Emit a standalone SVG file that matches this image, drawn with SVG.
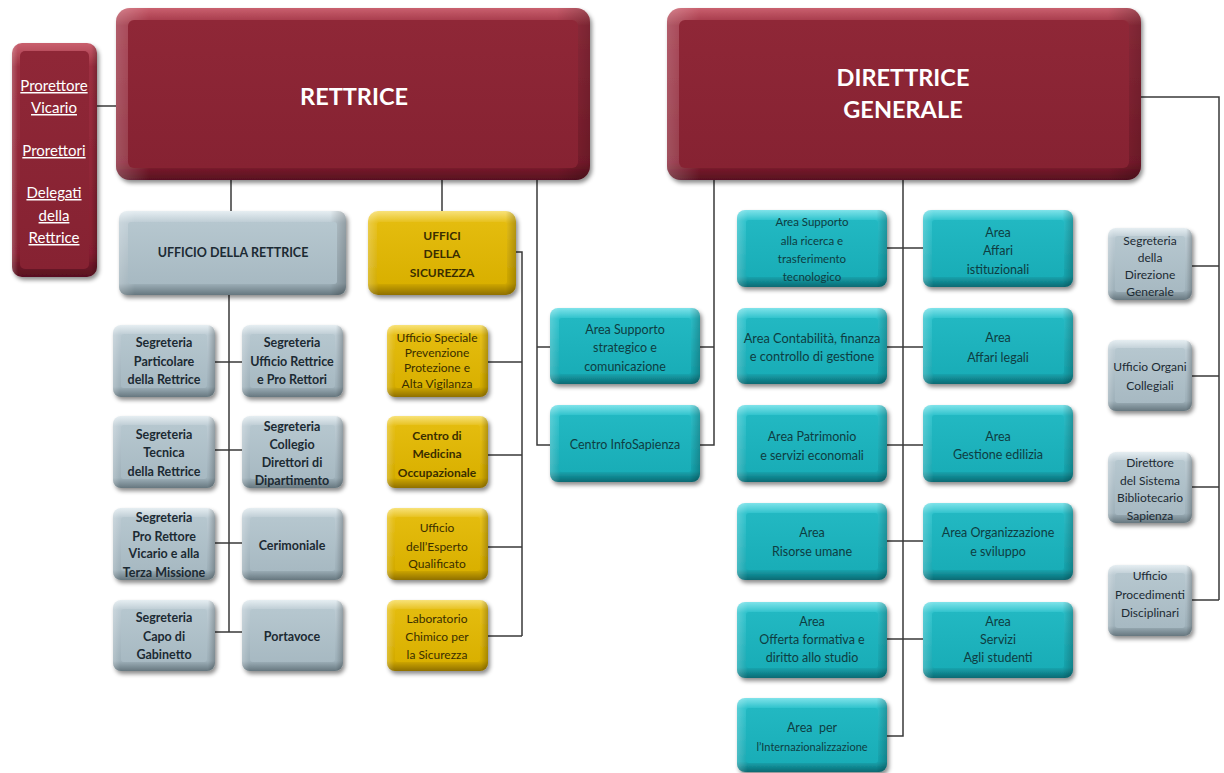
<svg xmlns="http://www.w3.org/2000/svg" width="1224" height="773" viewBox="0 0 1224 773">
<style>
.t{font-family:Lato,"Noto Sans","Liberation Sans",sans-serif;text-anchor:middle}
.s{font-size:12px}
.s2{font-size:12.5px}
.s3{font-size:12.5px}
.b{font-weight:700}
.g{fill:#1c2a33}
.y{fill:#3a2e00}
.c{fill:#0e3d42}
.big{font-size:23.5px;font-weight:700;fill:#ffffff}
.u{font-size:15px;fill:#ffffff;text-decoration:underline}
.ln{fill:none;stroke:#3a3a3a;stroke-width:1.5}
.sh{filter:url(#ds)}
.hl{fill:url(#side)}
</style>
<defs>
<filter id="ds" x="-10%" y="-10%" width="130%" height="140%">
<feDropShadow dx="2" dy="3" stdDeviation="2" flood-color="#000" flood-opacity="0.45"/>
</filter>
<linearGradient id="side" x1="0" y1="0" x2="1" y2="0">
<stop offset="0" stop-color="#fff" stop-opacity="0.22"/>
<stop offset="0.07" stop-color="#fff" stop-opacity="0"/>
<stop offset="0.93" stop-color="#000" stop-opacity="0"/>
<stop offset="1" stop-color="#000" stop-opacity="0.22"/>
</linearGradient>
<linearGradient id="mo" x1="0" y1="0" x2="0" y2="1">
<stop offset="0" stop-color="#c9606e"/>
<stop offset="0.1" stop-color="#9c2f40"/>
<stop offset="0.9" stop-color="#861f30"/>
<stop offset="1" stop-color="#571020"/>
</linearGradient>
<linearGradient id="mi" x1="0" y1="0" x2="0" y2="1">
<stop offset="0" stop-color="#8f2737"/>
<stop offset="1" stop-color="#862232"/>
</linearGradient>
<linearGradient id="go" x1="0" y1="0" x2="0" y2="1">
<stop offset="0" stop-color="#e6eef2"/>
<stop offset="0.14" stop-color="#bccbd3"/>
<stop offset="0.86" stop-color="#9fb1ba"/>
<stop offset="1" stop-color="#66777f"/>
</linearGradient>
<linearGradient id="gi" x1="0" y1="0" x2="0" y2="1">
<stop offset="0" stop-color="#b6c7cf"/>
<stop offset="1" stop-color="#a7b9c2"/>
</linearGradient>
<linearGradient id="yo" x1="0" y1="0" x2="0" y2="1">
<stop offset="0" stop-color="#f8e27a"/>
<stop offset="0.14" stop-color="#e6bf18"/>
<stop offset="0.86" stop-color="#d2aa00"/>
<stop offset="1" stop-color="#8f7000"/>
</linearGradient>
<linearGradient id="yi" x1="0" y1="0" x2="0" y2="1">
<stop offset="0" stop-color="#e4bc0e"/>
<stop offset="1" stop-color="#d9b000"/>
</linearGradient>
<linearGradient id="co" x1="0" y1="0" x2="0" y2="1">
<stop offset="0" stop-color="#7fe3ea"/>
<stop offset="0.14" stop-color="#2cc1cb"/>
<stop offset="0.86" stop-color="#17a7b1"/>
<stop offset="1" stop-color="#0b6a73"/>
</linearGradient>
<linearGradient id="ci" x1="0" y1="0" x2="0" y2="1">
<stop offset="0" stop-color="#22b8c2"/>
<stop offset="1" stop-color="#19adb7"/>
</linearGradient>
</defs>
<rect width="1224" height="773" fill="#ffffff"/>

<g id="connectors">
<path class="ln" d="M97,106H116"/>
<path class="ln" d="M231,180V211"/>
<path class="ln" d="M229,295V632M215,362H242M215,450H242M215,543H242M215,632H242"/>
<path class="ln" d="M442,180V211"/>
<path class="ln" d="M516,252H522V636M488,362H522M488,455H522M488,547H522M488,636H522"/>
<path class="ln" d="M537,180V445H550M537,347H550"/>
<path class="ln" d="M714,180V445H700M700,347H714"/>
<path class="ln" d="M903,180V736H887M887,248H923M887,347H923M887,445H923M887,541H923M887,639H923"/>
<path class="ln" d="M1141,97H1219V600M1192,266H1219M1192,376H1219M1192,487H1219M1192,600H1219"/>
</g>

<g id="vicari">
<rect class="sh" x="12" y="43" width="85" height="234" rx="10" fill="url(#mo)"/>
<rect x="12" y="43" width="85" height="234" rx="10" class="hl"/>
<rect x="20" y="51" width="69" height="218" rx="5" fill="url(#mi)"/>
<text class="t u" x="54" y="91">Prorettore</text>
<text class="t u" x="54" y="113">Vicario</text>
<text class="t u" x="54" y="156">Prorettori</text>
<text class="t u" x="54" y="198">Delegati</text>
<text class="t u" x="54" y="221">della</text>
<text class="t u" x="54" y="243">Rettrice</text>
</g>

<g id="rettrice">
<rect class="sh" x="116" y="8" width="474" height="172" rx="14" fill="url(#mo)"/>
<rect x="116" y="8" width="474" height="172" rx="14" class="hl"/>
<rect x="128" y="20" width="450" height="148" rx="6" fill="url(#mi)"/>
<text class="t big" x="354" y="105">RETTRICE</text>
</g>

<g id="direttrice">
<rect class="sh" x="667" y="8" width="474" height="172" rx="14" fill="url(#mo)"/>
<rect x="667" y="8" width="474" height="172" rx="14" class="hl"/>
<rect x="679" y="20" width="450" height="148" rx="6" fill="url(#mi)"/>
<text class="t big" x="903" y="86">DIRETTRICE</text>
<text class="t big" x="903" y="118">GENERALE</text>
</g>

<g id="ufficio-rettrice">
<rect class="sh" x="119" y="211" width="227" height="84" rx="8" fill="url(#go)"/>
<rect x="119" y="211" width="227" height="84" rx="8" class="hl"/>
<rect x="128" y="222" width="209" height="62" rx="3" fill="url(#gi)"/>
<text class="t b g" x="233" y="257" font-size="12.5">UFFICIO DELLA RETTRICE</text>
</g>

<g id="seg-particolare">
<rect class="sh" x="113" y="325" width="102" height="72" rx="8" fill="url(#go)"/>
<rect x="113" y="325" width="102" height="72" rx="8" class="hl"/>
<rect x="121" y="334" width="86" height="54" rx="3" fill="url(#gi)"/>
<text class="t s2 b g" x="164" y="347">Segreteria</text>
<text class="t s2 b g" x="164" y="366">Particolare</text>
<text class="t s2 b g" x="164" y="384">della Rettrice</text>
</g>
<g id="seg-ufficio">
<rect class="sh" x="242" y="325" width="101" height="72" rx="8" fill="url(#go)"/>
<rect x="242" y="325" width="101" height="72" rx="8" class="hl"/>
<rect x="250" y="334" width="85" height="54" rx="3" fill="url(#gi)"/>
<text class="t s2 b g" x="292" y="347">Segreteria</text>
<text class="t s2 b g" x="292" y="366">Ufficio Rettrice</text>
<text class="t s2 b g" x="292" y="384">e Pro Rettori</text>
</g>
<g id="seg-tecnica">
<rect class="sh" x="113" y="416" width="102" height="72" rx="8" fill="url(#go)"/>
<rect x="113" y="416" width="102" height="72" rx="8" class="hl"/>
<rect x="121" y="425" width="86" height="54" rx="3" fill="url(#gi)"/>
<text class="t s2 b g" x="164" y="439">Segreteria</text>
<text class="t s2 b g" x="164" y="457">Tecnica</text>
<text class="t s2 b g" x="164" y="476">della Rettrice</text>
</g>
<g id="seg-collegio">
<rect class="sh" x="242" y="416" width="101" height="72" rx="8" fill="url(#go)"/>
<rect x="242" y="416" width="101" height="72" rx="8" class="hl"/>
<rect x="250" y="425" width="85" height="54" rx="3" fill="url(#gi)"/>
<text class="t s2 b g" x="292" y="431">Segreteria</text>
<text class="t s2 b g" x="292" y="449">Collegio</text>
<text class="t s2 b g" x="292" y="467">Direttori di</text>
<text class="t s2 b g" x="292" y="485">Dipartimento</text>
</g>
<g id="seg-prorettore">
<rect class="sh" x="113" y="508" width="102" height="72" rx="8" fill="url(#go)"/>
<rect x="113" y="508" width="102" height="72" rx="8" class="hl"/>
<rect x="121" y="517" width="86" height="54" rx="3" fill="url(#gi)"/>
<text class="t s2 b g" x="164" y="522">Segreteria</text>
<text class="t s2 b g" x="164" y="541">Pro Rettore</text>
<text class="t s2 b g" x="164" y="558">Vicario e alla</text>
<text class="t s2 b g" x="164" y="577">Terza Missione</text>
</g>
<g id="cerimoniale">
<rect class="sh" x="242" y="508" width="101" height="72" rx="8" fill="url(#go)"/>
<rect x="242" y="508" width="101" height="72" rx="8" class="hl"/>
<rect x="250" y="517" width="85" height="54" rx="3" fill="url(#gi)"/>
<text class="t s2 b g" x="292" y="550">Cerimoniale</text>
</g>
<g id="seg-capo">
<rect class="sh" x="113" y="600" width="102" height="71" rx="8" fill="url(#go)"/>
<rect x="113" y="600" width="102" height="71" rx="8" class="hl"/>
<rect x="121" y="609" width="86" height="53" rx="3" fill="url(#gi)"/>
<text class="t s2 b g" x="164" y="622">Segreteria</text>
<text class="t s2 b g" x="164" y="641">Capo di</text>
<text class="t s2 b g" x="164" y="659">Gabinetto</text>
</g>
<g id="portavoce">
<rect class="sh" x="242" y="600" width="101" height="71" rx="8" fill="url(#go)"/>
<rect x="242" y="600" width="101" height="71" rx="8" class="hl"/>
<rect x="250" y="609" width="85" height="53" rx="3" fill="url(#gi)"/>
<text class="t s2 b g" x="292" y="641">Portavoce</text>
</g>

<g id="sicurezza">
<rect class="sh" x="368" y="211" width="148" height="84" rx="10" fill="url(#yo)"/>
<rect x="368" y="211" width="148" height="84" rx="10" class="hl"/>
<rect x="377" y="222" width="130" height="62" rx="3" fill="url(#yi)"/>
<text class="t b y" x="442" y="240" font-size="12">UFFICI</text>
<text class="t b y" x="442" y="258" font-size="12">DELLA</text>
<text class="t b y" x="442" y="277" font-size="12">SICUREZZA</text>
</g>
<g id="uff-speciale">
<rect class="sh" x="387" y="325" width="101" height="72" rx="8" fill="url(#yo)"/>
<rect x="387" y="325" width="101" height="72" rx="8" class="hl"/>
<rect x="395" y="334" width="85" height="54" rx="3" fill="url(#yi)"/>
<text class="t s y" x="437" y="342">Ufficio Speciale</text>
<text class="t s y" x="437" y="357">Prevenzione</text>
<text class="t s y" x="437" y="372">Protezione e</text>
<text class="t s y" x="437" y="388">Alta Vigilanza</text>
</g>
<g id="centro-medicina">
<rect class="sh" x="387" y="416" width="101" height="72" rx="8" fill="url(#yo)"/>
<rect x="387" y="416" width="101" height="72" rx="8" class="hl"/>
<rect x="395" y="425" width="85" height="54" rx="3" fill="url(#yi)"/>
<text class="t s b y" x="437" y="440">Centro di</text>
<text class="t s b y" x="437" y="458">Medicina</text>
<text class="t s b y" x="437" y="477">Occupazionale</text>
</g>
<g id="esperto">
<rect class="sh" x="387" y="508" width="101" height="72" rx="8" fill="url(#yo)"/>
<rect x="387" y="508" width="101" height="72" rx="8" class="hl"/>
<rect x="395" y="517" width="85" height="54" rx="3" fill="url(#yi)"/>
<text class="t s y" x="437" y="532">Ufficio</text>
<text class="t s y" x="437" y="551">dell’Esperto</text>
<text class="t s y" x="437" y="568">Qualificato</text>
</g>
<g id="laboratorio">
<rect class="sh" x="387" y="600" width="101" height="71" rx="8" fill="url(#yo)"/>
<rect x="387" y="600" width="101" height="71" rx="8" class="hl"/>
<rect x="395" y="609" width="85" height="53" rx="3" fill="url(#yi)"/>
<text class="t s y" x="437" y="623">Laboratorio</text>
<text class="t s y" x="437" y="641">Chimico per</text>
<text class="t s y" x="437" y="659">la Sicurezza</text>
</g>

<g id="area-strategico">
<rect class="sh" x="550" y="308" width="150" height="76" rx="8" fill="url(#co)"/>
<rect x="550" y="308" width="150" height="76" rx="8" class="hl"/>
<rect x="559" y="318" width="132" height="56" rx="3" fill="url(#ci)"/>
<text class="t s3 c" x="625" y="334">Area Supporto</text>
<text class="t s3 c" x="625" y="352">strategico e</text>
<text class="t s3 c" x="625" y="371">comunicazione</text>
</g>
<g id="infosapienza">
<rect class="sh" x="550" y="405" width="150" height="77" rx="8" fill="url(#co)"/>
<rect x="550" y="405" width="150" height="77" rx="8" class="hl"/>
<rect x="559" y="415" width="132" height="57" rx="3" fill="url(#ci)"/>
<text class="t s3 c" x="625" y="449">Centro InfoSapienza</text>
</g>

<g id="area-ricerca">
<rect class="sh" x="737" y="210" width="150" height="77" rx="8" fill="url(#co)"/>
<rect x="737" y="210" width="150" height="77" rx="8" class="hl"/>
<rect x="746" y="220" width="132" height="57" rx="3" fill="url(#ci)"/>
<text class="t c" x="812" y="226" font-size="11.5">Area Supporto</text>
<text class="t c" x="812" y="245" font-size="11.5">alla ricerca e</text>
<text class="t c" x="812" y="263" font-size="11.5">trasferimento</text>
<text class="t c" x="812" y="281" font-size="11.5">tecnologico</text>
</g>
<g id="area-contabilita">
<rect class="sh" x="737" y="308" width="150" height="76" rx="8" fill="url(#co)"/>
<rect x="737" y="308" width="150" height="76" rx="8" class="hl"/>
<rect x="746" y="318" width="132" height="56" rx="3" fill="url(#ci)"/>
<text class="t c" x="812" y="343" font-size="12.8">Area Contabilità, finanza</text>
<text class="t c" x="812" y="361" font-size="12.8">e controllo di gestione</text>
</g>
<g id="area-patrimonio">
<rect class="sh" x="737" y="405" width="150" height="77" rx="8" fill="url(#co)"/>
<rect x="737" y="405" width="150" height="77" rx="8" class="hl"/>
<rect x="746" y="415" width="132" height="57" rx="3" fill="url(#ci)"/>
<text class="t s3 c" x="812" y="441">Area Patrimonio</text>
<text class="t s3 c" x="812" y="460">e servizi economali</text>
</g>
<g id="area-risorse">
<rect class="sh" x="737" y="503" width="150" height="77" rx="8" fill="url(#co)"/>
<rect x="737" y="503" width="150" height="77" rx="8" class="hl"/>
<rect x="746" y="513" width="132" height="57" rx="3" fill="url(#ci)"/>
<text class="t s3 c" x="812" y="537">Area</text>
<text class="t s3 c" x="812" y="556">Risorse umane</text>
</g>
<g id="area-offerta">
<rect class="sh" x="737" y="602" width="150" height="76" rx="8" fill="url(#co)"/>
<rect x="737" y="602" width="150" height="76" rx="8" class="hl"/>
<rect x="746" y="612" width="132" height="56" rx="3" fill="url(#ci)"/>
<text class="t s3 c" x="812" y="626">Area</text>
<text class="t s3 c" x="812" y="644">Offerta formativa e</text>
<text class="t s3 c" x="812" y="662">diritto allo studio</text>
</g>
<g id="area-internazionalizzazione">
<rect class="sh" x="737" y="698" width="150" height="74" rx="8" fill="url(#co)"/>
<rect x="737" y="698" width="150" height="74" rx="8" class="hl"/>
<rect x="746" y="708" width="132" height="55" rx="3" fill="url(#ci)"/>
<text class="t s3 c" x="812" y="732" xml:space="preserve">Area  per</text>
<text class="t c" x="812" y="751" font-size="11">l’Internazionalizzazione</text>
</g>

<g id="area-istituzionali">
<rect class="sh" x="923" y="210" width="150" height="77" rx="8" fill="url(#co)"/>
<rect x="923" y="210" width="150" height="77" rx="8" class="hl"/>
<rect x="932" y="220" width="132" height="57" rx="3" fill="url(#ci)"/>
<text class="t s3 c" x="998" y="237">Area</text>
<text class="t s3 c" x="998" y="255">Affari</text>
<text class="t s3 c" x="998" y="274">istituzionali</text>
</g>
<g id="area-legali">
<rect class="sh" x="923" y="308" width="150" height="76" rx="8" fill="url(#co)"/>
<rect x="923" y="308" width="150" height="76" rx="8" class="hl"/>
<rect x="932" y="318" width="132" height="56" rx="3" fill="url(#ci)"/>
<text class="t s3 c" x="998" y="342">Area</text>
<text class="t s3 c" x="998" y="362">Affari legali</text>
</g>
<g id="area-edilizia">
<rect class="sh" x="923" y="405" width="150" height="77" rx="8" fill="url(#co)"/>
<rect x="923" y="405" width="150" height="77" rx="8" class="hl"/>
<rect x="932" y="415" width="132" height="57" rx="3" fill="url(#ci)"/>
<text class="t s3 c" x="998" y="441">Area</text>
<text class="t s3 c" x="998" y="459">Gestione edilizia</text>
</g>
<g id="area-organizzazione">
<rect class="sh" x="923" y="503" width="150" height="77" rx="8" fill="url(#co)"/>
<rect x="923" y="503" width="150" height="77" rx="8" class="hl"/>
<rect x="932" y="513" width="132" height="57" rx="3" fill="url(#ci)"/>
<text class="t s3 c" x="998" y="537">Area Organizzazione</text>
<text class="t s3 c" x="998" y="556">e sviluppo</text>
</g>
<g id="area-servizi">
<rect class="sh" x="923" y="602" width="150" height="76" rx="8" fill="url(#co)"/>
<rect x="923" y="602" width="150" height="76" rx="8" class="hl"/>
<rect x="932" y="612" width="132" height="56" rx="3" fill="url(#ci)"/>
<text class="t s3 c" x="998" y="626">Area</text>
<text class="t s3 c" x="998" y="644">Servizi</text>
<text class="t s3 c" x="998" y="662">Agli studenti</text>
</g>

<g id="seg-direzione">
<rect class="sh" x="1108" y="228" width="84" height="72" rx="8" fill="url(#go)"/>
<rect x="1108" y="228" width="84" height="72" rx="8" class="hl"/>
<rect x="1115" y="236" width="70" height="56" rx="3" fill="url(#gi)"/>
<text class="t s g" x="1150" y="245">Segreteria</text>
<text class="t s g" x="1150" y="262">della</text>
<text class="t s g" x="1150" y="279">Direzione</text>
<text class="t s g" x="1150" y="296">Generale</text>
</g>
<g id="organi-collegiali">
<rect class="sh" x="1108" y="340" width="84" height="71" rx="8" fill="url(#go)"/>
<rect x="1108" y="340" width="84" height="71" rx="8" class="hl"/>
<rect x="1115" y="348" width="70" height="55" rx="3" fill="url(#gi)"/>
<text class="t s g" x="1150" y="371">Ufficio Organi</text>
<text class="t s g" x="1150" y="390">Collegiali</text>
</g>
<g id="sistema-bibliotecario">
<rect class="sh" x="1108" y="452" width="84" height="71" rx="8" fill="url(#go)"/>
<rect x="1108" y="452" width="84" height="71" rx="8" class="hl"/>
<rect x="1115" y="460" width="70" height="55" rx="3" fill="url(#gi)"/>
<text class="t s g" x="1150" y="467">Direttore</text>
<text class="t s g" x="1150" y="485">del Sistema</text>
<text class="t s g" x="1150" y="502">Bibliotecario</text>
<text class="t s g" x="1150" y="520">Sapienza</text>
</g>
<g id="procedimenti">
<rect class="sh" x="1108" y="565" width="84" height="71" rx="8" fill="url(#go)"/>
<rect x="1108" y="565" width="84" height="71" rx="8" class="hl"/>
<rect x="1115" y="573" width="70" height="55" rx="3" fill="url(#gi)"/>
<text class="t s g" x="1150" y="580">Ufficio</text>
<text class="t s g" x="1150" y="599">Procedimenti</text>
<text class="t s g" x="1150" y="617">Disciplinari</text>
</g>
</svg>
